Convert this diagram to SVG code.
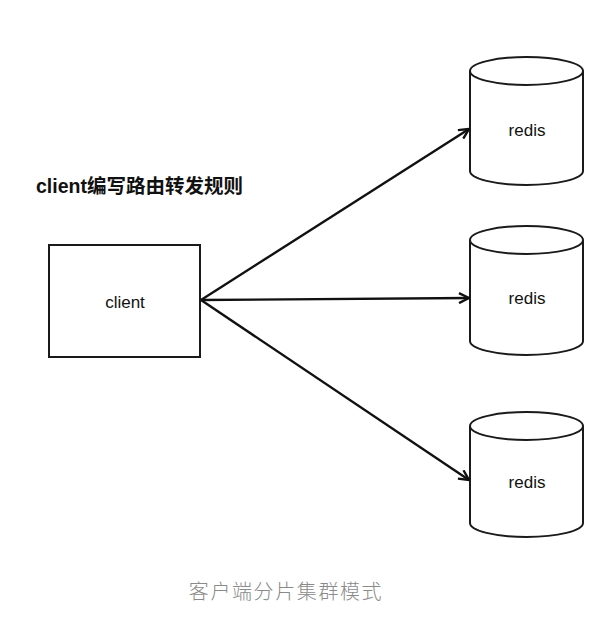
<svg xmlns="http://www.w3.org/2000/svg" width="605" height="619" viewBox="0 0 605 619">
<style>
.shape{fill:#fff;stroke:#1a1a1a;stroke-width:2}
.lbl{font-family:"Liberation Sans",Arial,sans-serif;font-size:17px;fill:#111;text-anchor:middle;dominant-baseline:central}
.edge{fill:none;stroke:#111;stroke-width:2.4}
</style>
<defs>
<marker id="open" viewBox="0 0 12 12" refX="11" refY="6" markerWidth="12" markerHeight="12" markerUnits="userSpaceOnUse" orient="auto">
<path d="M1,1 L11,6 L1,11" fill="none" stroke="#111" stroke-width="2.4"/>
</marker>
</defs>
<rect width="605" height="619" fill="#fff"/>
<text x="36" y="193" font-family="'Liberation Sans','Noto Sans CJK SC',sans-serif" font-size="19.5" font-weight="bold" fill="#111">client编写路由转发规则</text>
<g id="client">
<rect class="shape" x="49" y="245" width="151" height="112"/>
<text class="lbl" x="125" y="302">client</text>
</g>
<g id="redis1">
<path class="shape" d="M470,71 L470,171 A56.5,14 0 0 0 583,171 L583,71"/>
<ellipse class="shape" cx="526.5" cy="71" rx="56.5" ry="14"/>
<text class="lbl" x="527" y="130">redis</text>
</g>
<g id="redis2">
<path class="shape" d="M470,240 L470,341 A56.5,14 0 0 0 583,341 L583,240"/>
<ellipse class="shape" cx="526.5" cy="240" rx="56.5" ry="14"/>
<text class="lbl" x="527" y="298">redis</text>
</g>
<g id="redis3">
<path class="shape" d="M470,426 L470,523 A56.5,14 0 0 0 583,523 L583,426"/>
<ellipse class="shape" cx="526.5" cy="426" rx="56.5" ry="14"/>
<text class="lbl" x="527" y="482">redis</text>
</g>
<g id="connectors">
<line class="edge" x1="201" y1="300" x2="469" y2="129" marker-end="url(#open)"/>
<line class="edge" x1="201" y1="300" x2="469" y2="298" marker-end="url(#open)"/>
<line class="edge" x1="201" y1="300" x2="469" y2="480" marker-end="url(#open)"/>
</g>
<text x="286" y="599" font-family="'Liberation Serif','Noto Sans CJK SC',serif" font-size="20" font-weight="300" fill="#8a8a8a" text-anchor="middle" letter-spacing="1.6">客户端分片集群模式</text>
</svg>
